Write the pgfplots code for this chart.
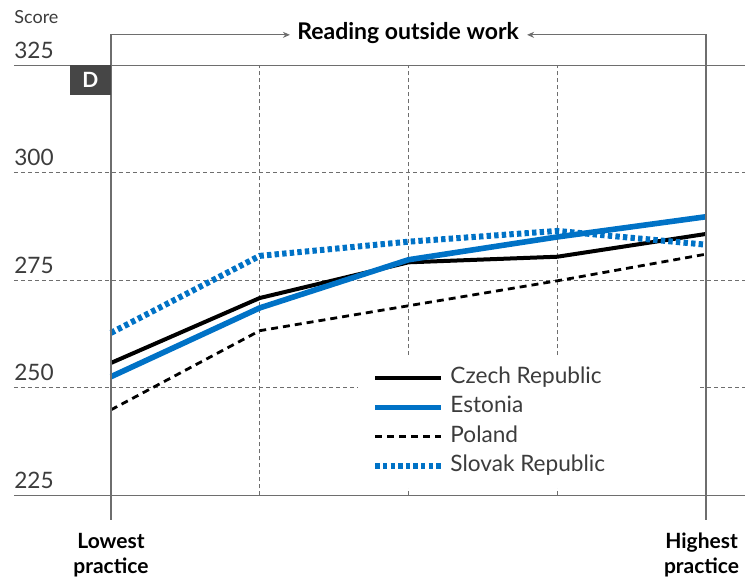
\documentclass[border=0pt]{standalone}
\usepackage{fontspec}
\setmainfont{Lato}
\usepackage{pgfplots}
\pgfplotsset{compat=1.18}
\usetikzlibrary{arrows.meta}
\definecolor{oblue}{RGB}{0,114,198}
\definecolor{gridgray}{RGB}{110,110,110}
\definecolor{labelgray}{RGB}{60,60,60}
\definecolor{boxgray}{RGB}{70,70,70}
\tikzset{ylab/.style={anchor=base west, inner sep=0pt, yshift=3.5pt, text=labelgray, font=\fontsize{11.3}{12}\selectfont}}
\begin{document}
\begin{tikzpicture}
\begin{axis}[
  x=74.375pt, y=2.15pt,
  xmin=-0.652, xmax=4.262, ymin=225, ymax=325,
  axis line style={draw=none},
  major tick length=0pt,
  xtick={1,2,3}, xticklabels={},
  ytick={250,275,300}, yticklabels={},
  extra y ticks={225,325}, extra y tick labels={},
  extra y tick style={grid style={solid, gridgray, line width=0.6pt}},
  xmajorgrids, ymajorgrids,
  grid style={gridgray, line width=0.5pt, dash pattern=on 2pt off 1.5pt},
  clip=false,
  legend cell align=left,
  legend image code/.code={\draw[#1] (0pt,0pt) -- (33pt,0pt);},
  legend style={at={(axis cs:1.755,254.88)}, anchor=north west, draw=none, fill=none,
    inner sep=0pt, row sep=4.25pt, column sep=3pt,
    font=\fontsize{11.3}{12}\selectfont, text=labelgray,
    nodes={inner sep=0pt, text height=8pt, text depth=2.5pt}},
]
\fill[white] (axis cs:1.661,226.7) rectangle (axis cs:3.960,257.7);

\addplot[black, line width=2pt] coordinates {(0,255.8)(1,270.9)(2,279.2)(3,280.5)(4,285.8)};
\addlegendentry{Czech Republic}
\addplot[oblue, line width=2.8pt] coordinates {(0,252.6)(1,268.6)(2,279.8)(3,285.1)(4,289.8)};
\addlegendentry{Estonia}
\addplot[black, line width=1.4pt, dash pattern=on 3.5pt off 2.5pt] coordinates {(0,244.9)(1,263.3)(2,269.1)(3,274.9)(4,281.1)};
\addlegendentry{Poland}
\addplot[oblue, line width=3pt, dash pattern=on 2.2pt off 1.6pt] coordinates {(0,262.8)(1,280.7)(2,284.0)(3,286.5)(4,283.3)};
\addlegendentry{Slovak Republic}

% bracket
\draw[gridgray, line width=0.6pt, -{Stealth[length=3.5pt,width=3pt]}] (axis cs:0,219.3) -- (axis cs:0,332.1) -- (axis cs:1.203,332.1);
\draw[gridgray, line width=0.6pt, -{Stealth[length=3.5pt,width=3pt]}] (axis cs:4,219.3) -- (axis cs:4,332.1) -- (axis cs:2.797,332.1);
\node[anchor=base, inner sep=0pt, font=\bfseries\fontsize{11.5}{13}\selectfont] at (axis cs:1.997,330.93) {Reading outside work};

% D box
\fill[boxgray] (axis cs:-0.276,318.1) rectangle (axis cs:0,325);
\node[text=white, font=\bfseries\fontsize{10.5}{12}\selectfont] at (axis cs:-0.138,321.55) {D};

% Score and tick labels
\node[anchor=base west, inner sep=0pt, text=labelgray, font=\fontsize{9}{10}\selectfont] at (axis cs:-0.652,334.65) {Score};
\node[ylab] at (axis cs:-0.652,225) {225};
\node[ylab] at (axis cs:-0.652,250) {250};
\node[ylab] at (axis cs:-0.652,275) {275};
\node[ylab] at (axis cs:-0.652,300) {300};
\node[ylab] at (axis cs:-0.652,325) {325};

% x labels
\node[align=center, anchor=north, inner sep=0pt, font=\bfseries\fontsize{10.5}{12.5}\selectfont] at (axis cs:0,216.3) {Lowest\\practice};
\node[align=center, anchor=north, inner sep=0pt, font=\bfseries\fontsize{10.5}{12.5}\selectfont] at (axis cs:3.97,216.3) {Highest\\practice};

\coordinate (BL) at (axis cs:-0.746,205.95);
\coordinate (TR) at (axis cs:4.262,340.2);
\end{axis}
\pgfresetboundingbox
\path (BL) rectangle (TR);
\end{tikzpicture}
\end{document}
